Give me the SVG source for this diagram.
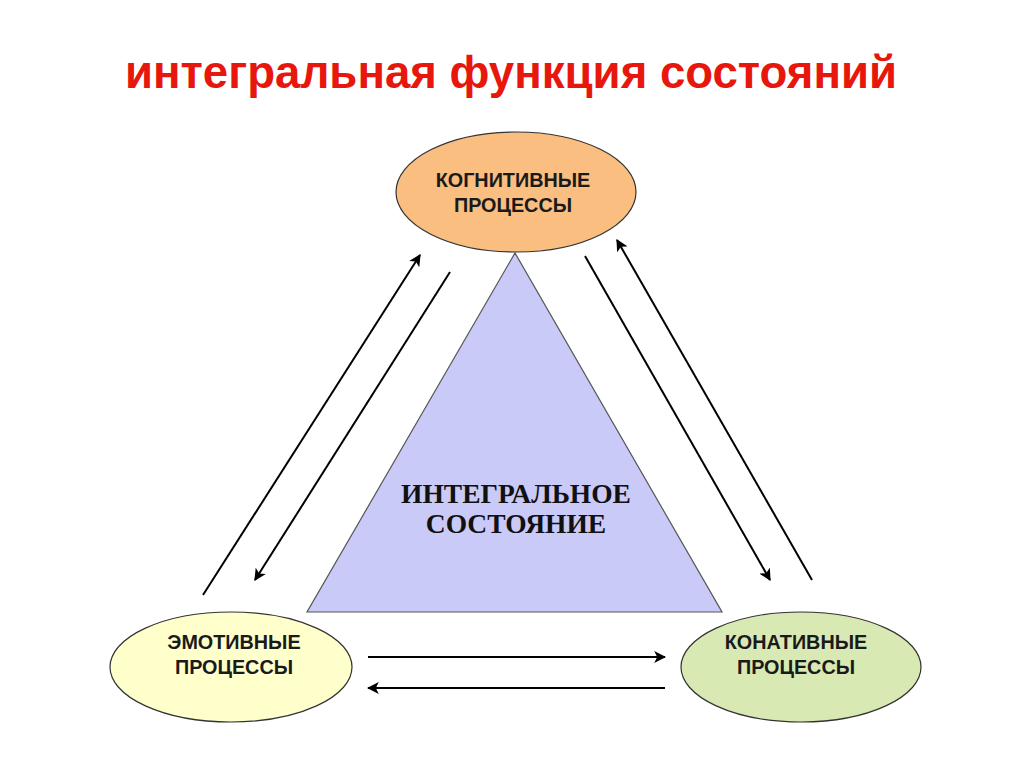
<svg xmlns="http://www.w3.org/2000/svg" width="1024" height="767" viewBox="0 0 1024 767">
<style>
.node text{font-family:"Liberation Sans",Arial,sans-serif;font-weight:bold;font-size:19.8px;fill:#1a1a1a;text-anchor:middle}
.ell{stroke:#333;stroke-width:1.2}
.conn line{stroke:#000;stroke-width:2;marker-end:url(#ah)}
</style>
<defs>
<marker id="ah" viewBox="0 0 10 10" refX="9" refY="5" markerWidth="6" markerHeight="6" orient="auto" markerUnits="strokeWidth">
<path d="M0,0 L10,5 L0,10 L2.5,5 Z" fill="#000"/>
</marker>
</defs>
<rect width="1024" height="767" fill="#fff"/>
<text x="511" y="88" font-family="Liberation Sans,Arial,sans-serif" font-weight="bold" font-size="45.6" fill="#e8170d" text-anchor="middle">интегральная функция состояний</text>
<g id="integral">
<polygon points="515,253 722,612 307,612" fill="#c9caf7" stroke="#555" stroke-width="1.2"/>
<text font-family="Liberation Serif,Times New Roman,serif" font-weight="bold" font-size="27.5" fill="#111" text-anchor="middle"><tspan x="516" y="503">ИНТЕГРАЛЬНОЕ</tspan><tspan x="516" y="533">СОСТОЯНИЕ</tspan></text>
</g>
<g id="cognitive" class="node">
<ellipse class="ell" cx="516" cy="192" rx="120" ry="60" fill="#f9be80"/>
<text><tspan x="513" y="187">КОГНИТИВНЫЕ</tspan><tspan x="513" y="212">ПРОЦЕССЫ</tspan></text>
</g>
<g id="emotive" class="node">
<ellipse class="ell" cx="231" cy="667" rx="121" ry="55" fill="#ffffcc"/>
<text><tspan x="234" y="649">ЭМОТИВНЫЕ</tspan><tspan x="234" y="674">ПРОЦЕССЫ</tspan></text>
</g>
<g id="conative" class="node">
<ellipse class="ell" cx="801" cy="667" rx="120" ry="55" fill="#d9e9b3"/>
<text><tspan x="796" y="649">КОНАТИВНЫЕ</tspan><tspan x="796" y="674">ПРОЦЕССЫ</tspan></text>
</g>
<g id="connectors" class="conn">
<line x1="203" y1="595" x2="420" y2="255"/>
<line x1="450" y1="272" x2="255" y2="580"/>
<line x1="585" y1="256" x2="770" y2="580"/>
<line x1="812" y1="580" x2="617" y2="240"/>
<line x1="368" y1="657" x2="665" y2="657"/>
<line x1="665" y1="688" x2="368" y2="688"/>
</g>
</svg>
